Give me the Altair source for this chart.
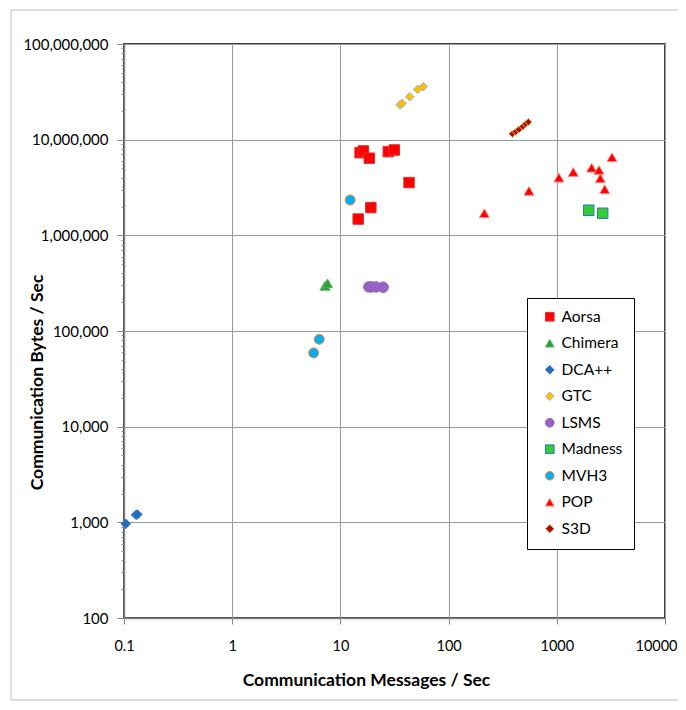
import altair as alt
import pandas as pd

apps = ["Aorsa", "Chimera", "DCA++", "GTC", "LSMS", "Madness", "MVH3", "POP", "S3D"]

aorsa_x = [15.2, 16.3, 18.5, 27.7, 31.5, 43.1, 19.1, 14.6]
aorsa_y = [7.31e6, 7.62e6, 6.4e6, 7.5e6, 7.8e6, 3.56e6, 1.95e6, 1.48e6]
chimera_x = [7.2, 7.6]
chimera_y = [2.96e5, 3.15e5]
dca_x = [0.104, 0.129, 0.133]
dca_y = [964, 1197, 1210]
gtc_x = [35.6, 37.1, 43.7, 51.8, 58.4]
gtc_y = [2.31e7, 2.40e7, 2.81e7, 3.36e7, 3.58e7]
lsms_x = [18.3, 19.3, 21.3, 24.8]
lsms_y = [2.89e5, 2.89e5, 2.89e5, 2.87e5]
madness_x = [1972, 2656]
madness_y = [1.83e6, 1.70e6]
mvh3_x = [12.3, 6.38, 5.66]
mvh3_y = [2.34e6, 8.2e4, 5.9e4]
pop_x = [214, 553, 1047, 1420, 2100, 2453, 2523, 2771, 3236]
pop_y = [1.70e6, 2.91e6, 4.01e6, 4.59e6, 5.09e6, 4.82e6, 3.95e6, 3.03e6, 6.55e6]
s3d_x = [388, 417, 447, 484, 516, 545]
s3d_y = [1.15e7, 1.21e7, 1.28e7, 1.37e7, 1.46e7, 1.53e7]

series = {
    "Aorsa": (aorsa_x, aorsa_y),
    "Chimera": (chimera_x, chimera_y),
    "DCA++": (dca_x, dca_y),
    "GTC": (gtc_x, gtc_y),
    "LSMS": (lsms_x, lsms_y),
    "Madness": (madness_x, madness_y),
    "MVH3": (mvh3_x, mvh3_y),
    "POP": (pop_x, pop_y),
    "S3D": (s3d_x, s3d_y),
}

fills = ["#ff0000", "#21a336", "#1f6cc1", "#ffc000", "#9b5fc9", "#33cc33", "#00b0f0", "#ff0000", "#c00000"]
strokes = ["#e03030", "#5fae5f", "#3a78c0", "#9db0d8", "#8a6ab0", "#2e75b6", "#f08a30", "#ff8080", "#b8cc70"]
shapes = ["square", "triangle-up", "diamond", "diamond", "circle", "square", "circle", "triangle-up", "diamond"]
size_groups = [
    (110, ["Aorsa", "LSMS", "Madness"]),
    (100, ["Chimera", "MVH3", "POP"]),
    (90, ["DCA++"]),
    (75, ["GTC"]),
    (50, ["S3D"]),
]

x_ticks = [0.1, 1, 10, 100, 1000, 10000]
y_ticks = []
for d in range(2, 8):
    for m in range(1, 10):
        y_ticks.append(m * 10 ** d)
y_ticks.append(10 ** 8)

rows = []
for app in apps:
    xs, ys = series[app]
    for xv, yv in zip(xs, ys):
        rows.append({"app": app, "msgs": xv, "bytes": yv})
df = pd.DataFrame(rows)

major = "abs(log(datum.value)/LN10 - round(log(datum.value)/LN10)) < 0.000001"

legend = alt.Legend(
    title=None, orient="none", legendX=403, legendY=254,
    strokeColor="black", fillColor="white", padding=11,
    labelFont="Lato", labelFontSize=15.5, labelColor="black",
    rowPadding=9.5, symbolSize=75, symbolStrokeWidth=1, symbolOffset=4,
)

xenc = alt.X("msgs:Q", scale=alt.Scale(type="log", domain=[0.1, 10000], nice=False),
             axis=alt.Axis(values=x_ticks, format="~g", labelFlush=False, labelFontSize=14.5,
                           labelOffset={"condition": {"test": "datum.value >= 10000", "value": -9},
                                        "value": 0},
                           title="Communication Messages / Sec",
                           titleX=242, titleY=62, titleBaseline="middle", titleAlign="center"))
yenc = alt.Y("bytes:Q", scale=alt.Scale(type="log", domain=[100, 100000000], nice=False),
             axis=alt.Axis(values=y_ticks, labelFlush=False,
                           labelExpr="(" + major + ") ? format(datum.value, ',') : ''",
                           gridOpacity={"condition": {"test": major, "value": 1}, "value": 0},
                           tickSize={"condition": {"test": major, "value": 7}, "value": 3},
                           labelPadding=9,
                           title="Communication Bytes / Sec", titleX=-87, titleY=338,
                           titleBaseline="middle", titleAlign="center"))

base = alt.Chart(df).encode(
    x=xenc,
    y=yenc,
    fill=alt.Fill("app:N", scale=alt.Scale(domain=apps, range=fills), legend=legend),
    stroke=alt.Stroke("app:N", scale=alt.Scale(domain=apps, range=strokes), legend=legend),
    shape=alt.Shape("app:N", scale=alt.Scale(domain=apps, range=shapes), legend=legend),
)

layers = []
for sz, names in size_groups:
    layers.append(
        base.mark_point(filled=True, opacity=1, strokeWidth=1, size=sz)
        .transform_filter(alt.FieldOneOfPredicate(field="app", oneOf=names))
    )

frame = alt.Chart(pd.DataFrame({"a": [0]})).mark_rect(
    fill="white", fillOpacity=0, stroke="#bdbdbd", strokeWidth=1
).encode(x=alt.value(-113), x2=alt.value(566), y=alt.value(-34), y2=alt.value(656))

chart = alt.layer(frame, *layers).properties(
    width=541, height=574, autosize="none",
    padding={"left": 116, "top": 36, "right": 13, "bottom": 84},
).configure_view(stroke="black", strokeWidth=1.5).configure_axis(
    labelFont="Lato", labelFontSize=15, labelColor="black",
    titleFont="Lato", titleFontSize=17.5, titleFontWeight="bold", titleColor="black",
    gridColor="#9a9a9a", gridWidth=1, domainColor="#868686", domainWidth=1.5,
    tickColor="#868686", tickWidth=1,
).configure_axisX(tickSize=6, labelPadding=15)

chart.save("out.html", embed_options={"renderer": "svg", "actions": False})
